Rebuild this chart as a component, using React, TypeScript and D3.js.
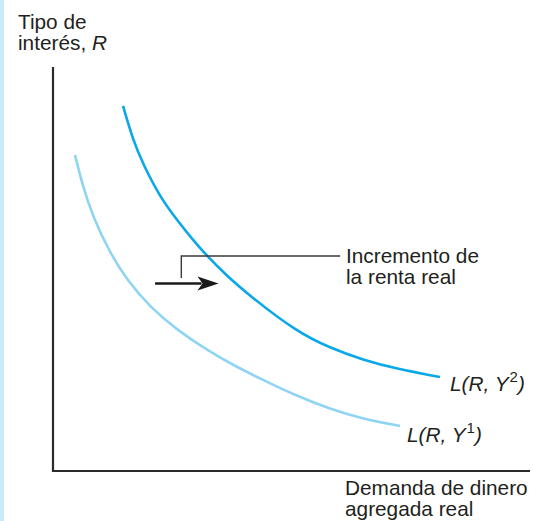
import React from "react";
import * as d3 from "d3";

// Data (arbitrary units)
const curveY2X = [1.468, 1.677, 1.887, 2.243, 2.6, 2.935, 3.229, 3.648, 4.13, 5.115, 5.807, 6.499, 7.212, 8.113];
const curveY2Y = [9.035, 8.193, 7.599, 6.782, 6.213, 5.718, 5.322, 4.827, 4.332, 3.441, 3.045, 2.748, 2.525, 2.327];
const curveY1X = [0.461, 0.629, 0.839, 1.195, 1.551, 2.034, 2.6, 3.291, 3.816, 4.403, 5.115, 5.807, 6.499, 7.275];
const curveY1Y = [7.822, 7.03, 6.287, 5.396, 4.728, 4.059, 3.49, 2.946, 2.599, 2.252, 1.856, 1.535, 1.287, 1.114];
const arrowX = [2.14, 3.47];
const arrowY = 4.64;
const bracketX = [2.69, 6.02];
const bracketY = [4.78, 5.32];

const W = 533;
const H = 521;
const FONT = "'Liberation Sans', Arial, Helvetica, sans-serif";

export default function App() {
  const x = d3.scaleLinear().domain([0, 10]).range([53, 530]);
  const y = d3.scaleLinear().domain([0, 10]).range([471, 67]);

  const line = d3
    .line<[number, number]>()
    .x((d) => x(d[0]))
    .y((d) => y(d[1]))
    .curve(d3.curveBasis);

  const y2pts: [number, number][] = curveY2X.map((v, i) => [v, curveY2Y[i]]);
  const y1pts: [number, number][] = curveY1X.map((v, i) => [v, curveY1Y[i]]);

  const ax0 = x(arrowX[0]);
  const ax1 = x(arrowX[1]);
  const ay = y(arrowY);
  const headLen = 21;
  const headHalf = 7;

  const bx0 = x(bracketX[0]);
  const bx1 = x(bracketX[1]);
  const by0 = y(bracketY[0]);
  const by1 = y(bracketY[1]);

  const fs = 20.8;

  return (
    <svg
      width={W}
      height={H}
      style={{ position: "absolute", left: 0, top: 0, background: "#fff" }}
      fontFamily={FONT}
    >
      <rect x={0} y={0} width={4} height={H} fill="#c8eaf9" />

      {/* axes */}
      <path
        d={`M${x(0)},${y(10)} L${x(0)},${y(0)} L${x(10)},${y(0)}`}
        fill="none"
        stroke="#2b2b2b"
        strokeWidth={2.2}
      />

      {/* curves */}
      <path d={line(y1pts) || ""} fill="none" stroke="#8fd5f3" strokeWidth={2.6} />
      <path d={line(y2pts) || ""} fill="none" stroke="#0aa8e8" strokeWidth={2.6} />

      {/* bracket */}
      <path
        d={`M${bx0},${by0} L${bx0},${by1} L${bx1},${by1}`}
        fill="none"
        stroke="#3a3a3a"
        strokeWidth={1.4}
      />

      {/* arrow */}
      <line x1={ax0} y1={ay} x2={ax1 - headLen + 4} y2={ay} stroke="#1a1a1a" strokeWidth={2.6} />
      <path
        d={`M${ax1},${ay} L${ax1 - headLen},${ay - headHalf} L${ax1 - headLen + 5},${ay} L${ax1 - headLen},${ay + headHalf} Z`}
        fill="#1a1a1a"
      />

      {/* texts */}
      <g fontSize={fs} fill="#231f20">
        <text x={18} y={29}>Tipo de</text>
        <text x={18} y={50}>
          interés, <tspan fontStyle="italic">R</tspan>
        </text>

        <text x={346} y={263}>Incremento de</text>
        <text x={346} y={284}>la renta real</text>

        <text x={450} y={391} fontStyle="italic">
          L(R, Y<tspan dx={1} dy={-9} fontSize={15} fontStyle="normal">2</tspan>
          <tspan dy={9}>)</tspan>
        </text>
        <text x={407} y={442} fontStyle="italic">
          L(R, Y<tspan dx={1} dy={-9} fontSize={15} fontStyle="normal">1</tspan>
          <tspan dy={9}>)</tspan>
        </text>

        <text x={345} y={495}>Demanda de dinero</text>
        <text x={345} y={516}>agregada real</text>
      </g>
    </svg>
  );
}
